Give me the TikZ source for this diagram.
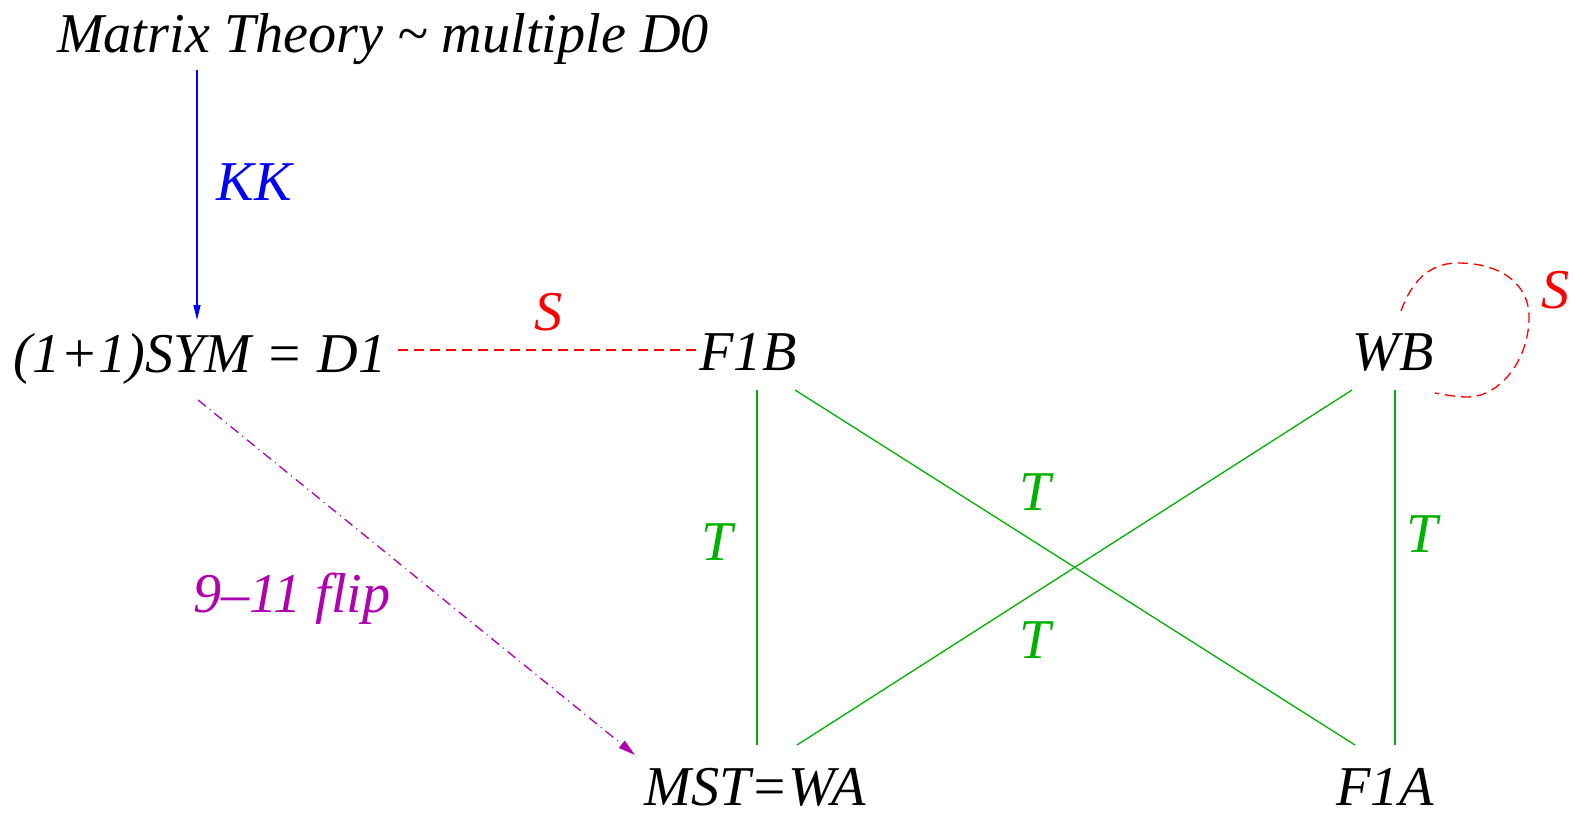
\documentclass[tikz,border=0pt]{standalone}
\usepackage{fontspec}
\setmainfont{Liberation Serif}
\usetikzlibrary{arrows.meta}

\definecolor{dualityBlue}{RGB}{0,0,255}
\definecolor{dualityRed}{RGB}{255,0,0}
\definecolor{dualityGreen}{RGB}{0,178,0}
\definecolor{dualityMagenta}{RGB}{176,0,176}

\begin{document}
\begin{tikzpicture}[x=.02cm,y=-.02cm,
      theory/.style={font=\fontsize{32}{38}\selectfont\itshape,
        anchor=base, inner sep=0pt},
      kk/.style={draw=dualityBlue, line width=.75pt,
        -{Triangle[length=.3cm,width=.14cm]}},
      sdual/.style={draw=dualityRed, line width=.75pt,
        dash pattern=on .2cm off .12cm},
      tdual/.style={draw=dualityGreen, line width=.75pt},
      flip/.style={draw=dualityMagenta, line width=.75pt,
        dash pattern=on .2cm off .1cm on .02cm off .1cm,
        -{Triangle[length=.34cm,width=.18cm]}}]
      \useasboundingbox (0,0) rectangle (1575,815);

      % theories
      \node[theory] (mt) at (383,52) {Matrix Theory \textasciitilde{} multiple D0};
      \node[theory] (sym) at (200,372) {(1+1)SYM = D1};
      \node[theory] (f1b) at (748,370) {F1B};
      \node[theory] (wb) at (1393,370) {WB};
      \node[theory] (mst) at (755,805) {MST=WA};
      \node[theory] (f1a) at (1385,805) {F1A};

      % duality labels
      \node[theory, text=dualityBlue] (kkLabel) at (254,200) {KK};
      \node[theory, text=dualityRed] (sLabel) at (549,330) {S};
      \node[theory, text=dualityRed] (wbSLabel) at (1556,308) {S};
      \node[theory, text=dualityGreen] (tLeft) at (717,560) {T};
      \node[theory, text=dualityGreen] (tUpper) at (1035,510) {T};
      \node[theory, text=dualityGreen] (tLower) at (1035,658) {T};
      \node[theory, text=dualityGreen] (tRight) at (1422,552) {T};
      \node[theory, text=dualityMagenta] (flipLabel) at (292,612) {9--11 flip};

      \draw[kk] ([shift={(-186,18)}]mt.base) -- ([shift={(-3,-52)}]sym.base);
      \draw[sdual] ([shift={(198,-22)}]sym.base) -- ([shift={(-51,-20)}]f1b.base);
      \draw[flip] ([shift={(-2,28)}]sym.base) -- ([shift={(-120,-50)}]mst.base);

      \draw[tdual] ([shift={(9,20)}]f1b.base) -- ([shift={(2,-60)}]mst.base);
      \draw[tdual] ([shift={(47,20)}]f1b.base) -- ([shift={(-30,-60)}]f1a.base);
      \draw[tdual] ([shift={(-41,20)}]wb.base) -- ([shift={(42,-60)}]mst.base);
      \draw[tdual] ([shift={(2,20)}]wb.base) -- ([shift={(10,-60)}]f1a.base);

      % self-duality loop on WB
      \draw[sdual] ([shift={(8,-59)}]wb.base)
        .. controls +(10,-28) and +(-30,0) .. ([shift={(65,-107)}]wb.base)
        .. controls +(40,0) and +(0,-35) .. ([shift={(136,-53)}]wb.base)
        .. controls +(0,45) and +(30,0) .. ([shift={(75,27)}]wb.base)
        .. controls +(-12,0) and +(12,2) .. ([shift={(42,23)}]wb.base);
    \end{tikzpicture}
\end{document}
